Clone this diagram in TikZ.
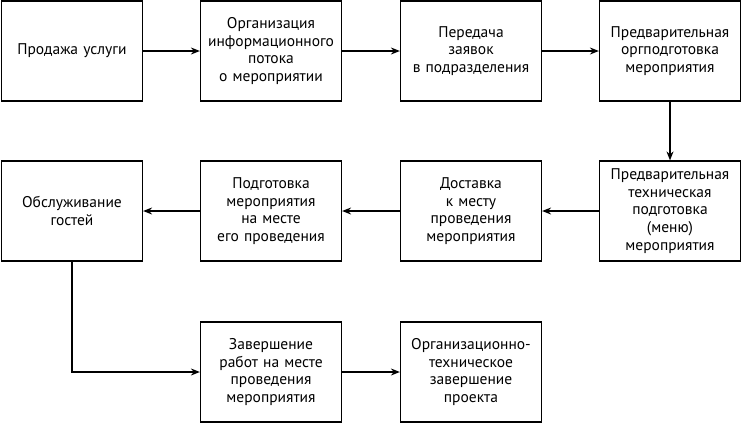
\documentclass[tikz,border=0pt]{standalone}
\usepackage{fontspec}
\setmainfont{PT Sans}
\usetikzlibrary{arrows.meta}
\begin{document}
\begin{tikzpicture}[x=1pt,y=-1pt]
\fontsize{15.5}{17.7}\selectfont
\tikzset{
    stage/.style={draw, line width=1.2pt, minimum width=141pt, minimum height=100pt, inner sep=2pt, text width=136pt, align=center},
    flow/.style={line width=1.2pt, -{Stealth[length=9pt,width=7pt]}},
}
\useasboundingbox (0,0) rectangle (742,424);

% Top row, left to right.
\node[stage] (sale) at (72,51) {Продажа услуги};
\node[stage] (info) at (271,51) {Организация\\информационного\\потока\\о мероприятии};
\node[stage] (orders) at (471,51) {Передача\\заявок\\в подразделения};
\node[stage] (prep) at (670,51) {Предварительная\\оргподготовка\\мероприятия};

% Middle row, right to left.
\node[stage] (tech) at (670,211) {Предварительная\\техническая\\подготовка\\(меню)\\мероприятия};
\node[stage] (deliv) at (471,211) {Доставка\\к месту\\проведения\\мероприятия};
\node[stage] (onsite) at (271,211) {Подготовка\\мероприятия\\на месте\\его проведения};
\node[stage] (guests) at (72,211) {Обслуживание\\гостей};

% Bottom row.
\node[stage] (finish) at (271,372) {Завершение\\работ на месте\\проведения\\мероприятия};
\node[stage] (close) at (471,372) {Организационно-\\техническое\\завершение\\проекта};

% Connectors.
\draw[flow] (sale) -- (info);
\draw[flow] (info) -- (orders);
\draw[flow] (orders) -- (prep);
\draw[flow] (prep) -- (tech);
\draw[flow] (tech) -- (deliv);
\draw[flow] (deliv) -- (onsite);
\draw[flow] (onsite) -- (guests);
\draw[flow] (guests.south) |- (finish.west);
\draw[flow] (finish) -- (close);
\end{tikzpicture}
\end{document}
